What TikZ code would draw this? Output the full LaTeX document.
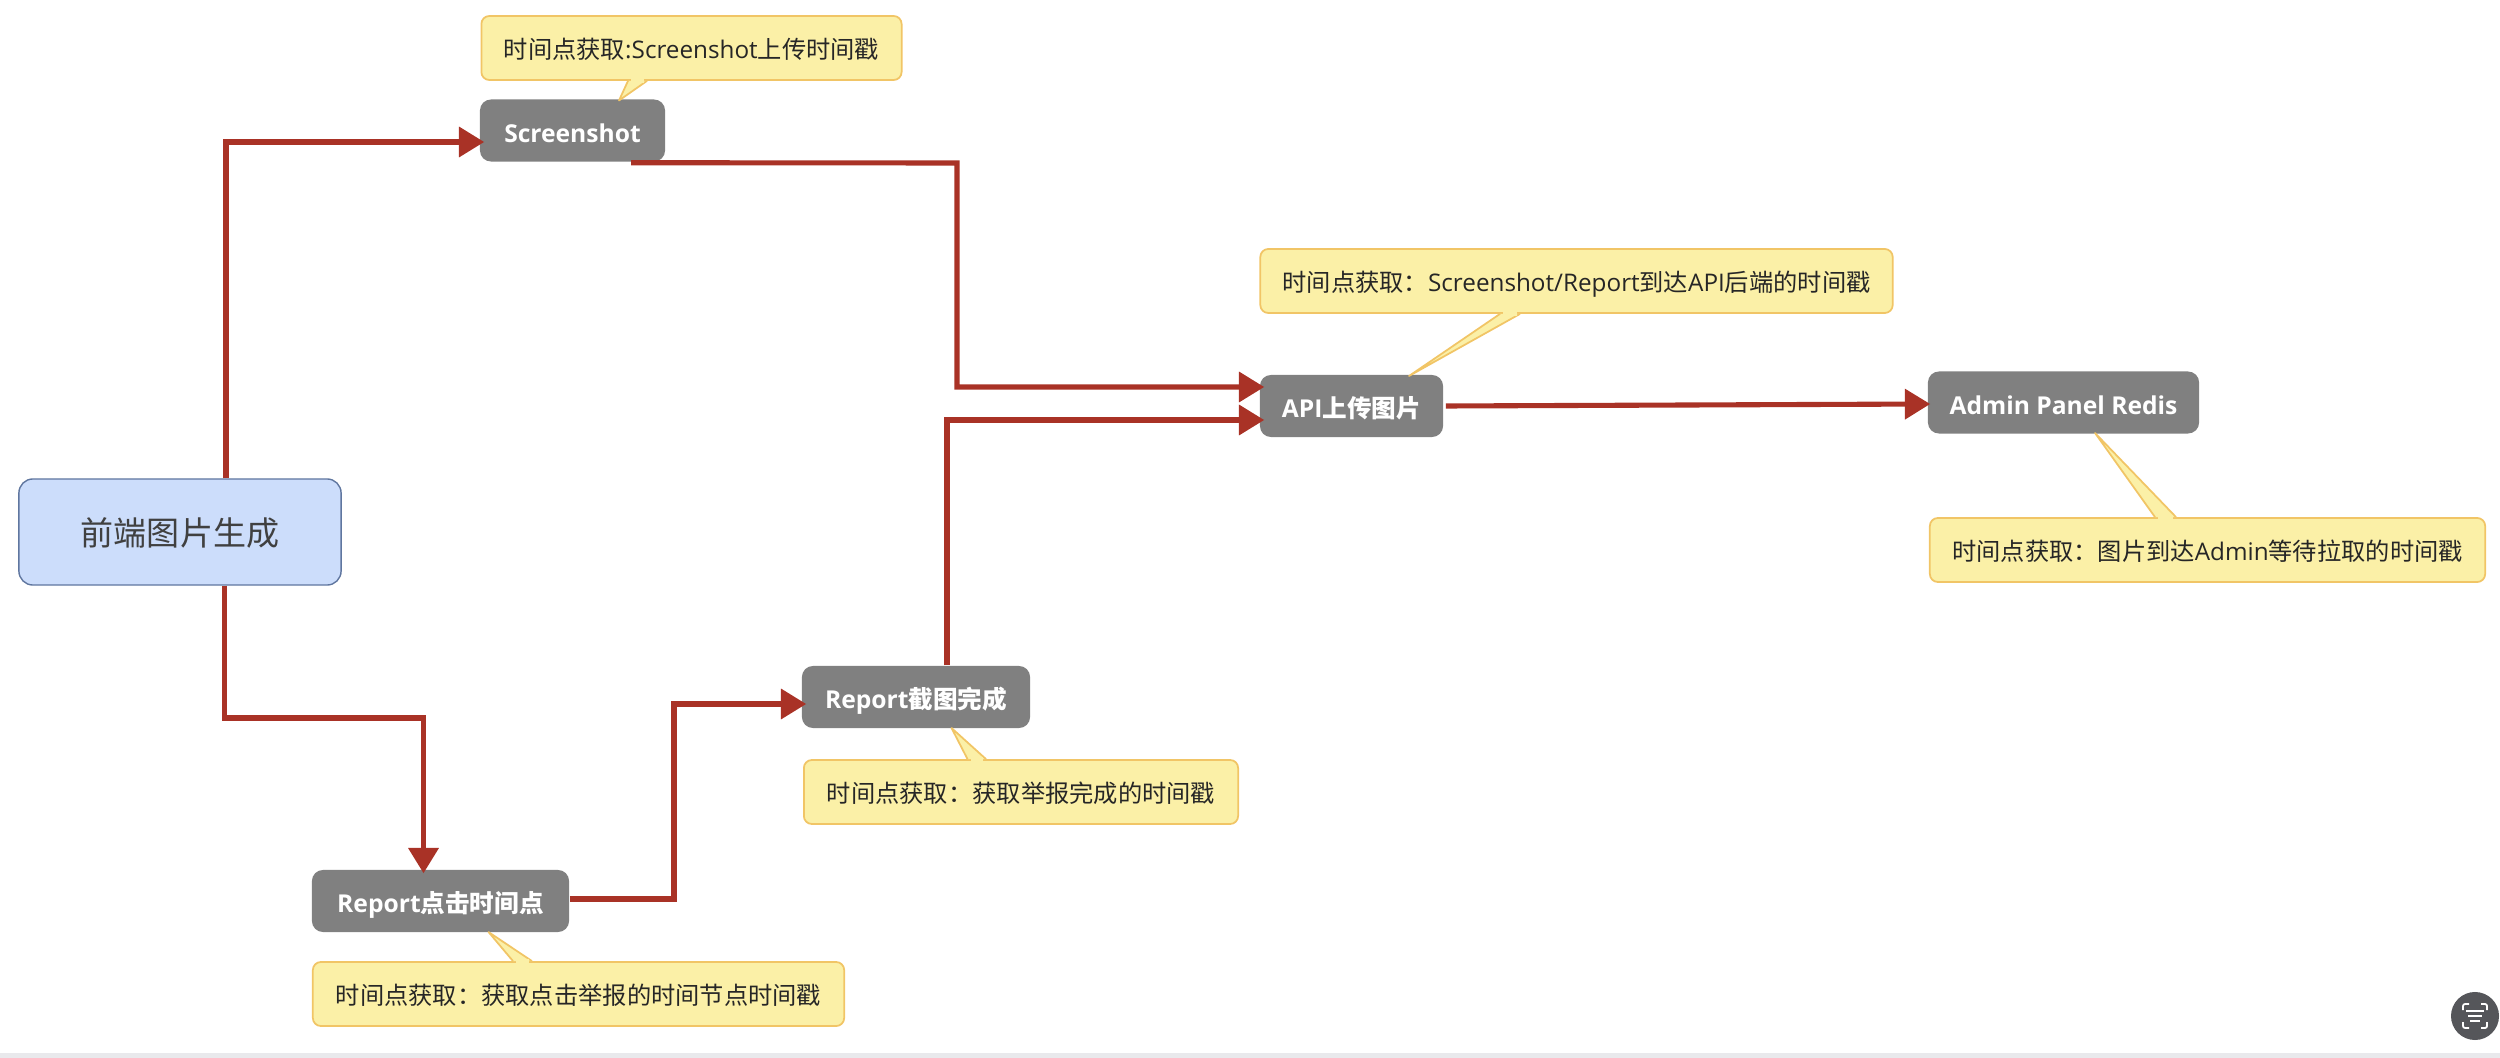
\documentclass[tikz,border=0pt]{standalone}
\usepackage{fontspec}
\setmainfont{Open Sans}
\newfontfamily\cjk{Noto Sans CJK SC}
\newcommand{\zh}[1]{{\cjk #1}}
\usetikzlibrary{arrows.meta,calc,positioning}
\definecolor{flowred}{HTML}{A93226}
\definecolor{stepgray}{HTML}{808080}
\definecolor{mainblue}{HTML}{CCDDFB}
\definecolor{mainedge}{HTML}{5F769F}
\definecolor{notefill}{HTML}{FBF0A7}
\definecolor{noteedge}{HTML}{F1C566}
\definecolor{scangray}{HTML}{55565A}
\definecolor{stripgray}{HTML}{E9E9EC}
\tikzset{
	every node/.style={
		inner sep=0pt
	},
	mainbox/.style={
		shape=rectangle,
		minimum width=3.22cm,
		minimum height=1.06cm,
		rounded corners=0.14cm,
		draw=mainedge,
		fill=mainblue,
		line width=0.4pt,
		text=black!75,
		text height=8pt,
		text depth=0.6pt,
		font=\fontsize{9.4}{11}\selectfont
	},
	stepbox/.style={
		shape=rectangle,
		minimum height=0.62cm,
		rounded corners=0.11cm,
		fill=stepgray,
		text=white,
		text height=7pt,
		text depth=0.4pt,
		font=\fontsize{7}{8}\selectfont\bfseries
	},
	notebox/.style={
		shape=rectangle,
		minimum height=0.64cm,
		rounded corners=0.08cm,
		draw=noteedge,
		fill=notefill,
		line width=0.5pt,
		text=black!85,
		text height=6.6pt,
		text depth=0.4pt,
		font=\fontsize{6.9}{8}\selectfont
	},
	notetip/.style={
		draw=noteedge,
		fill=notefill,
		line width=0.5pt,
		line join=round
	},
	flow/.style={
		draw=flowred,
		line width=1.45pt,
		->,
		>={Triangle[length=7.2pt,width=8.4pt]}
	}
}

\begin{document}
\begin{tikzpicture}[x=0.01cm,y=-0.01cm]
  \useasboundingbox (0,-1) rectangle (2500,1057);
  \fill[stripgray] (0,1052) rectangle (2500,1057);

  \node[mainbox] (Main) at (180,531) {\zh{前端图片生成}};
  \node[stepbox,minimum width=1.85cm] (Screenshot) at (572.5,129.5) {Screenshot};
  \node[stepbox,minimum width=2.57cm] (ReportClick) at (440.5,900) {Report\zh{点击时间点}};
  \node[stepbox,minimum width=2.28cm] (ReportDone) at (916,696) {Report\zh{截图完成}};
  \node[stepbox,minimum width=1.83cm] (API) at (1351.5,405) {API\zh{上传图片}};
  \node[stepbox,minimum width=2.71cm] (Admin) at (2063.5,401.5) {Admin Panel Redis};

  \node[notebox,minimum width=4.2cm] (NoteShot) at (691.5,47) {\zh{时间点获取}:Screenshot\zh{上传时间戳}};
  \node[notebox,minimum width=6.32cm] (NoteAPI) at (1576.5,280) {\zh{时间点获取：}Screenshot/Report\zh{到达}API\zh{后端的时间戳}};
  \node[notebox,minimum width=5.55cm] (NoteAdmin) at (2207.5,549) {\zh{时间点获取：图片到达}Admin\zh{等待拉取的时间戳}};
  \node[notebox,minimum width=4.34cm] (NoteDone) at (1021,791) {\zh{时间点获取：获取举报完成的时间戳}};
  \node[notebox,minimum width=5.31cm] (NoteClick) at (578.5,993) {\zh{时间点获取：获取点击举报的时间节点时间戳}};

  \coordinate (busShot) at (957,162);
  \coordinate (busClick) at (423.5,717);
  \coordinate (busDone) at (674,898);

  % pointers of the notes
  \foreach \note/\edge/\tip/\ax/\bx in {
      NoteShot/south/{(619,99.5)}/628/647,
      NoteAPI/south/{(1409,375)}/1500/1520,
      NoteAdmin/north/{(2095,432)}/2155/2176,
      NoteDone/north/{(951.5,727)}/967.5/986,
      NoteClick/north/{(488.5,931)}/513/532} {
    \draw[notetip] (\ax,0 |- \note.\edge) -- \tip -- (\bx,0 |- \note.\edge);
    \draw[notefill,line width=1.2pt] (\ax+3,0 |- \note.\edge) -- (\bx-3,0 |- \note.\edge);
  }

  \path[flow] ([shift={(46,0)}]Main.north) |- ([shift={(5,11.5)}]Screenshot.west);
  \path[flow] ([shift={(58.5,0.5)}]Screenshot.south) -- (busShot) |- ([shift={(5,-19)}]API.west);
  \path[flow] ([shift={(44.5,0)}]Main.south) |- (busClick) -- ([shift={(-17,4)}]ReportClick.north);
  \path[flow] ([shift={(0,-2)}]ReportClick.east) -- (busDone) |- ([shift={(5,7)}]ReportDone.west);
  \path[flow] ([shift={(31,0)}]ReportDone.north) |- ([shift={(5,14)}]API.west);
  \path[flow] ([shift={(2,0)}]API.east) -- ([shift={(3,1.5)}]Admin.west);

  % scan button in the corner
  \node[circle,fill=scangray,minimum size=0.48cm] (Scan) at (2475,1015) {};
  \foreach \sx/\sy in {-1/-1,1/-1,-1/1,1/1}
    \draw[white,line width=0.5pt,rounded corners=0.02cm]
      ($(Scan)+(\sx*12,\sy*6)$) -- ($(Scan)+(\sx*12,\sy*12)$) -- ($(Scan)+(\sx*6,\sy*12)$);
  \foreach \sy/\sw in {-5/9,0/7,5/5}
    \draw[white,line width=0.45pt] ($(Scan)+(-\sw,\sy)$) -- ($(Scan)+(\sw,\sy)$);
\end{tikzpicture}
\end{document}
